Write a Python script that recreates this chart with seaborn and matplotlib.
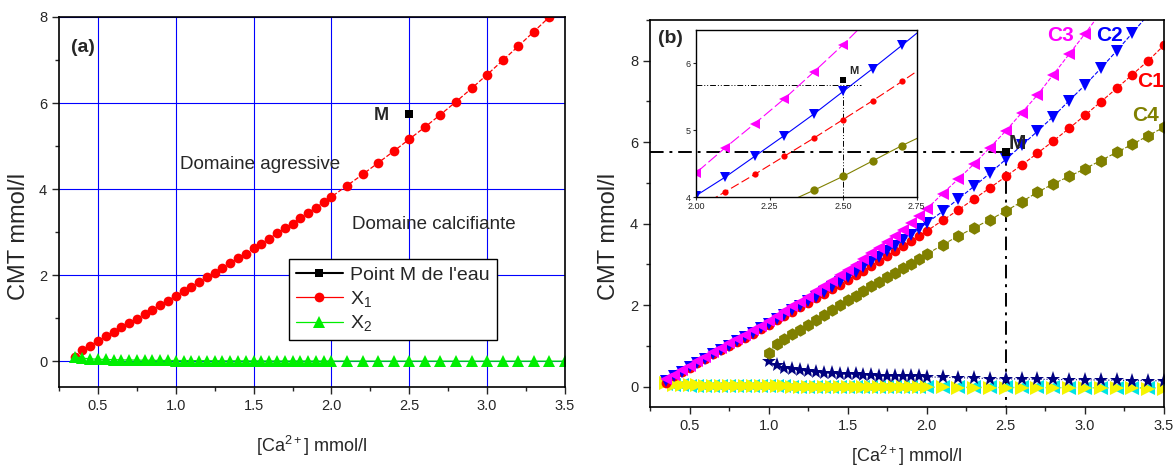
import numpy as np
import matplotlib
matplotlib.use("Agg")
import matplotlib.pyplot as plt
from matplotlib.ticker import MultipleLocator, FormatStrFormatter
import seaborn as sns

# Calcium concentration (mmol/l) - shared x grid
x_ca = [0.35, 0.40, 0.45, 0.50, 0.55, 0.60, 0.65, 0.70, 0.75, 0.80, 0.85, 0.90,
        0.95, 1.00, 1.05, 1.10, 1.15, 1.20, 1.25, 1.30, 1.35, 1.40, 1.45, 1.50,
        1.55, 1.60, 1.65, 1.70, 1.75, 1.80, 1.85, 1.90, 1.95, 2.00,
        2.1, 2.2, 2.3, 2.4, 2.5, 2.6, 2.7, 2.8, 2.9, 3.0, 3.1, 3.2, 3.3, 3.4, 3.5]

# CMT (mmol/l)
c1 = [0.10, 0.25, 0.36, 0.47, 0.58, 0.68, 0.79, 0.89, 0.99, 1.09, 1.20, 1.30,
      1.41, 1.52, 1.63, 1.73, 1.84, 1.95, 2.06, 2.17, 2.28, 2.39, 2.50, 2.62,
      2.73, 2.85, 2.97, 3.09, 3.20, 3.33, 3.45, 3.57, 3.69, 3.82,
      4.08, 4.34, 4.61, 4.88, 5.16, 5.44, 5.73, 6.03, 6.34, 6.66, 6.99, 7.32, 7.66, 8.00, 8.38]
x2 = [0.10, 0.07, 0.055, 0.045, 0.040, 0.035, 0.030, 0.028, 0.025, 0.022, 0.020, 0.018,
      0.016, 0.015, 0.014, 0.013, 0.012, 0.011, 0.010, 0.009, 0.008, 0.008, 0.007, 0.007,
      0.006, 0.006, 0.005, 0.005, 0.005, 0.004, 0.004, 0.004, 0.003, 0.003,
      0.003, 0.003, 0.002, 0.002, 0.002, 0.002, 0.002, 0.001, 0.001, 0.001, 0.001, 0.001, 0.001, 0.001, 0.001]
c2 = [0.15, 0.26, 0.37, 0.48, 0.59, 0.69, 0.80, 0.90, 1.01, 1.11, 1.22, 1.32,
      1.43, 1.54, 1.65, 1.76, 1.87, 1.98, 2.10, 2.21, 2.33, 2.45, 2.57, 2.69,
      2.81, 2.94, 3.06, 3.19, 3.32, 3.45, 3.59, 3.73, 3.87, 4.02,
      4.30, 4.61, 4.92, 5.24, 5.58, 5.92, 6.27, 6.63, 7.02, 7.40, 7.81, 8.24, 8.68, 9.13, 9.60]
c3 = [0.18, 0.29, 0.40, 0.51, 0.62, 0.73, 0.84, 0.95, 1.06, 1.17, 1.28, 1.39,
      1.50, 1.61, 1.73, 1.85, 1.97, 2.09, 2.21, 2.34, 2.47, 2.60, 2.73, 2.86,
      2.99, 3.13, 3.27, 3.41, 3.55, 3.70, 3.85, 4.01, 4.18, 4.36,
      4.74, 5.10, 5.47, 5.87, 6.28, 6.72, 7.16, 7.66, 8.16, 8.66, 9.18, 9.72, 10.28, 10.86, 11.46]
cyan_low = [0.06, 0.04, 0.03, 0.025, 0.020, 0.018, 0.016, 0.014, 0.012, 0.010, 0.009, 0.008,
            0.007, 0.006, 0.005, 0.004, 0.003, 0.002, 0.001, 0.000, -0.001, -0.002, -0.003, -0.004,
            -0.005, -0.006, -0.007, -0.008, -0.009, -0.010, -0.010, -0.011, -0.011, -0.012,
            -0.013, -0.014, -0.015, -0.016, -0.017, -0.018, -0.019, -0.020, -0.021, -0.022, -0.023, -0.024, -0.025, -0.026, -0.027]
yellow_low = [0.08, 0.05, 0.04, 0.035, 0.030, 0.027, 0.024, 0.021, 0.018, 0.016, 0.014, 0.012,
              0.010, 0.008, 0.006, 0.004, 0.002, 0.000, -0.002, -0.004, -0.005, -0.006, -0.007, -0.008,
              -0.009, -0.010, -0.011, -0.012, -0.013, -0.014, -0.015, -0.016, -0.017, -0.018,
              -0.020, -0.022, -0.024, -0.026, -0.028, -0.030, -0.032, -0.034, -0.036, -0.038, -0.040, -0.042, -0.044, -0.046, -0.048]

# series starting at 1.0 mmol/l
x_from1 = x_ca[13:]
c4 = [0.83, 1.05, 1.17, 1.29, 1.40, 1.52, 1.64, 1.76, 1.88, 2.00, 2.12, 2.23,
      2.34, 2.46, 2.57, 2.68, 2.80, 2.91, 3.02, 3.14, 3.25,
      3.48, 3.70, 3.90, 4.10, 4.31, 4.54, 4.77, 4.98, 5.16, 5.35, 5.55, 5.75, 5.95, 6.16, 6.37]
star_low = [0.63, 0.53, 0.47, 0.43, 0.40, 0.38, 0.36, 0.34, 0.33, 0.32, 0.31, 0.30,
            0.29, 0.28, 0.27, 0.27, 0.26, 0.26, 0.25, 0.25, 0.24,
            0.23, 0.22, 0.21, 0.20, 0.19, 0.19, 0.18, 0.18, 0.17, 0.17, 0.16, 0.16, 0.15, 0.15, 0.14]

# water sample point M
m_ca = [2.5]
m_cmt = [5.75]

sns.set_style("ticks")
plt.rcParams['font.family'] = ['Liberation Sans', 'DejaVu Sans']
plt.rcParams['mathtext.fontset'] = 'custom'
plt.rcParams['mathtext.rm'] = 'Liberation Sans'
plt.rcParams['mathtext.it'] = 'Liberation Sans:italic'

OLIVE = '#808000'
NAVY = '#000080'
DASHDOT = (0, (7, 3, 1.5, 3))

fig = plt.figure(figsize=(11.76, 4.68), dpi=100)
ax1 = fig.add_axes([0.0502, 0.1731, 0.4302, 0.7906])
ax2 = fig.add_axes([0.5527, 0.1303, 0.4371, 0.8270])


def style_axis(ax, ylim, xpad, ylab_y):
    ax.set_xlim(0.25, 3.5)
    ax.set_ylim(*ylim)
    ax.xaxis.set_major_locator(MultipleLocator(0.5))
    ax.xaxis.set_minor_locator(MultipleLocator(0.25))
    ax.yaxis.set_major_locator(MultipleLocator(2))
    ax.yaxis.set_minor_locator(MultipleLocator(1))
    ax.tick_params(which='major', direction='out', length=5, width=1, labelsize=10.5,
                   top=False, right=False)
    ax.tick_params(which='minor', direction='out', length=3, width=1, top=False, right=False)
    for s in ax.spines.values():
        s.set_linewidth(1.2)
        s.set_color('black')
    ax.set_xlabel('[Ca$^{2+}$] mmol/l', fontsize=13, labelpad=xpad)
    ax.set_ylabel('CMT mmol/l', fontsize=17, va='center')
    ax.yaxis.set_label_coords(-0.08, ylab_y)


# ---------- panel (a) ----------
ax1.grid(True, which='major', color='#0000ff', linewidth=0.8)
ax1.set_axisbelow(True)
sns.lineplot(x=m_ca, y=m_cmt, ax=ax1, color='black', marker='s', markersize=6,
             markeredgewidth=0, label="Point M de l'eau")
sns.lineplot(x=x_ca, y=c1, ax=ax1, color='red', linestyle='--', linewidth=0.9,
             marker='o', markersize=7, markeredgewidth=0, label='X$_{1}$')
sns.lineplot(x=x_ca, y=x2, ax=ax1, color='#00ee00', linewidth=0.9,
             marker='^', markersize=8, markeredgewidth=0, label='X$_{2}$')
style_axis(ax1, (-0.6, 8), 15, 0.408)
ax1.text(0.33, 7.3, '(a)', fontsize=14, fontweight='bold', va='center')
ax1.text(2.27, 5.7, 'M', fontsize=13, fontweight='bold', va='center')
ax1.text(1.03, 4.56, 'Domaine agressive', fontsize=13.5, va='center')
ax1.text(2.13, 3.18, 'Domaine calcifiante', fontsize=13.5, va='center')
leg = ax1.legend(loc='upper left', bbox_to_anchor=(0.455, 0.345), fontsize=14,
                 frameon=True, fancybox=False, handlelength=2.4, borderpad=0.35,
                 labelspacing=0.25, handletextpad=0.4, borderaxespad=0)
leg.get_frame().set_edgecolor('black')
leg.get_frame().set_linewidth(1.0)
leg.get_frame().set_alpha(1)
for h in leg.legend_handles:
    h.set_linestyle('-')

# ---------- panel (b) ----------
ax2.plot([0.25, 2.5], [5.75, 5.75], color='black', linestyle=DASHDOT, linewidth=1.4)
ax2.plot([2.5, 2.5], [5.75, -0.5], color='black', linestyle=DASHDOT, linewidth=1.4)
sns.lineplot(x=x_ca, y=cyan_low, ax=ax2, color='#00e5e5', linestyle=':', linewidth=0.8,
             marker='<', markersize=10, markeredgewidth=0, legend=False)
sns.lineplot(x=x_ca, y=yellow_low, ax=ax2, color='#f5f500', linestyle=':', linewidth=0.8,
             marker='>', markersize=10, markeredgewidth=0, legend=False)
sns.lineplot(x=x_from1, y=star_low, ax=ax2, color=NAVY, linestyle=':', linewidth=0.8,
             marker='*', markersize=11, markeredgewidth=0, legend=False)
sns.lineplot(x=x_from1, y=c4, ax=ax2, color=OLIVE, linestyle='--', linewidth=0.8,
             marker='h', markersize=9, markeredgewidth=0, legend=False)
sns.lineplot(x=x_ca, y=c1, ax=ax2, color='red', linestyle='--', linewidth=0.8,
             marker='o', markersize=7, markeredgewidth=0, legend=False)
sns.lineplot(x=x_ca, y=c2, ax=ax2, color='blue', linestyle='--', linewidth=0.8,
             marker='v', markersize=9, markeredgewidth=0, legend=False)
sns.lineplot(x=x_ca, y=c3, ax=ax2, color='#ff00ff', linestyle='--', linewidth=0.8,
             marker='<', markersize=9, markeredgewidth=0, legend=False)
sns.scatterplot(x=m_ca, y=m_cmt, ax=ax2, color='black', marker='s', s=40,
                linewidth=0, legend=False, zorder=5)
style_axis(ax2, (-0.5, 9), 8, 0.442)
ax2.text(0.30, 8.55, '(b)', fontsize=14, fontweight='bold', va='center')
ax2.text(2.52, 5.96, 'M', fontsize=15, fontweight='bold', va='center')
ax2.text(2.76, 8.62, 'C3', fontsize=15, fontweight='bold', color='#ff00ff', va='center')
ax2.text(3.07, 8.62, 'C2', fontsize=15, fontweight='bold', color='blue', va='center')
ax2.text(3.33, 7.48, 'C1', fontsize=15, fontweight='bold', color='red', va='center')
ax2.text(3.30, 6.66, 'C4', fontsize=15, fontweight='bold', color=OLIVE, va='center')

# ---------- inset zoom ----------
axi = fig.add_axes([0.5918, 0.579, 0.1877, 0.357], facecolor='none')
axi.plot([2.0, 2.56], [5.68, 5.68], color='black', linestyle=(0, (6, 2, 1, 2, 1, 2)), linewidth=0.7)
axi.plot([2.5, 2.5], [5.66, 4.0], color='black', linestyle=(0, (6, 2, 1, 2, 1, 2)), linewidth=0.7)
sns.lineplot(x=x_from1, y=c4, ax=axi, color=OLIVE, linewidth=0.8,
             marker='o', markersize=6, markeredgewidth=0, legend=False)
sns.lineplot(x=x_ca, y=c1, ax=axi, color='red', linestyle=(0, (8, 3)), linewidth=0.8,
             marker='o', markersize=4.5, markeredgewidth=0, legend=False)
sns.lineplot(x=x_ca, y=c2, ax=axi, color='blue', linewidth=0.8,
             marker='v', markersize=7, markeredgewidth=0, legend=False)
sns.lineplot(x=x_ca, y=c3, ax=axi, color='#ff00ff', linestyle=(0, (10, 3)), linewidth=0.8,
             marker='<', markersize=7, markeredgewidth=0, legend=False)
sns.scatterplot(x=m_ca, y=m_cmt, ax=axi, color='black', marker='s', s=14,
                linewidth=0, legend=False, zorder=5)
axi.text(2.52, 5.89, 'M', fontsize=8, fontweight='bold', va='center')
axi.set_xlim(2.0, 2.75)
axi.set_ylim(4.0, 6.5)
axi.xaxis.set_major_locator(MultipleLocator(0.25))
axi.yaxis.set_major_locator(MultipleLocator(1))
axi.xaxis.set_major_formatter(FormatStrFormatter('%.2f'))
axi.tick_params(which='major', direction='out', length=2, width=0.8, labelsize=6.5, pad=1.5)
axi.set_xlabel('')
axi.set_ylabel('')
for s in axi.spines.values():
    s.set_linewidth(1.0)
    s.set_color('black')

fig.savefig('out.png', dpi=100)
